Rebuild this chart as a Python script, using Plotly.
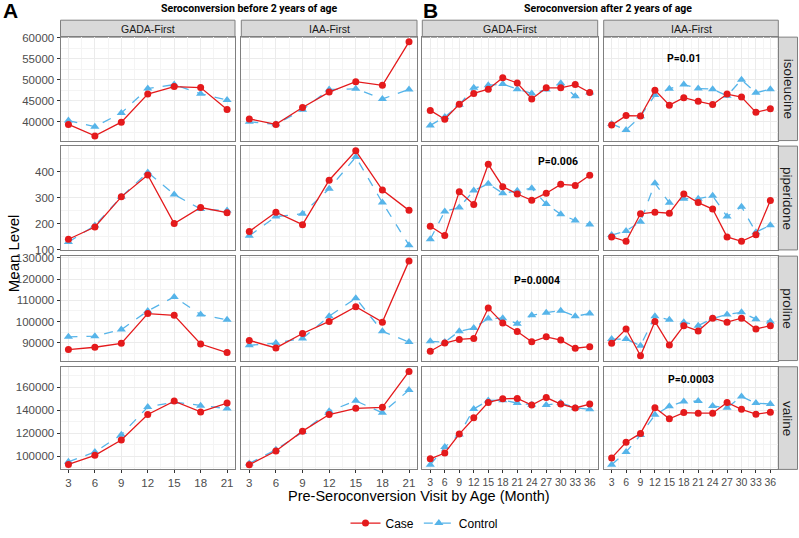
import plotly.graph_objects as go

W, H = 799, 538

months_A = [3, 6, 9, 12, 15, 18, 21]
months_B = [3, 6, 9, 12, 15, 18, 21, 24, 27, 30, 33, 36]
col_names = ["GADA-First", "IAA-First", "GADA-First", "IAA-First"]
row_names = ["isoleucine", "piperidone", "proline", "valine"]

# isoleucine
iso_A_gada_case = [39380, 36650, 39920, 46610, 48400, 48170, 42960]
iso_A_gada_ctrl = [40300, 38830, 42100, 47940, 48870, 46690, 45200]
iso_A_iaa_case = [40700, 39380, 43420, 47080, 49570, 48710, 59060]
iso_A_iaa_ctrl = [40000, 39400, 42880, 47700, 47860, 45450, 47700]
iso_B_gada_case = [42720, 40620, 44200, 46770, 47780, 50500, 49260, 45450, 48090, 48090, 48870, 47000]
iso_B_gada_ctrl = [39140, 41170, 44050, 48090, 48710, 49020, 47780, 46770, 47700, 49180, 46070, 47000]
iso_B_iaa_case = [39220, 41480, 41400, 47550, 43970, 45760, 44900, 44120, 46610, 45910, 42260, 43110]
iso_B_iaa_ctrl = [39500, 38050, 41300, 46380, 47860, 48870, 47940, 47780, 46220, 50030, 46920, 47780]

# piperidone
pip_A_gada_case = [140, 187, 303, 387, 200, 262, 242]
pip_A_gada_ctrl = [129, 193, 303, 397, 312, 256, 250]
pip_A_iaa_case = [170, 244, 196, 367, 480, 329, 251]
pip_A_iaa_ctrl = [153, 227, 238, 334, 456, 281, 117]
pip_B_gada_case = [190, 154, 323, 274, 428, 342, 314, 290, 317, 351, 347, 386]
pip_B_gada_ctrl = [140, 247, 262, 327, 353, 317, 326, 336, 275, 236, 212, 197]
pip_B_iaa_case = [149, 132, 238, 244, 240, 314, 281, 256, 149, 132, 157, 289]
pip_B_iaa_ctrl = [156, 172, 207, 355, 280, 296, 296, 307, 227, 265, 167, 194]

# proline
pro_A_gada_case = [86760, 87870, 89720, 103750, 102960, 89400, 85370]
pro_A_gada_ctrl = [92780, 93100, 96200, 105000, 111620, 103290, 100830]
pro_A_iaa_case = [91110, 87550, 94350, 100050, 106990, 99720, 128600]
pro_A_iaa_ctrl = [88800, 89860, 92040, 102500, 111000, 95410, 90320]
pro_B_gada_case = [86000, 89860, 91570, 92040, 106380, 99260, 95280, 90460, 92780, 91250, 87400, 88150]
pro_B_gada_ctrl = [90650, 90320, 95410, 96950, 101440, 101600, 98980, 102960, 104200, 105140, 102500, 103750]
pro_B_iaa_case = [89720, 96480, 83840, 100050, 88940, 98050, 95560, 101600, 99720, 101600, 96480, 98050]
pro_B_iaa_ctrl = [91710, 91710, 88610, 102500, 100830, 99720, 98050, 101440, 103290, 104350, 101110, 100050]

# valine
val_A_gada_case = [92890, 100850, 114230, 136420, 148080, 138690, 146370]
val_A_gada_ctrl = [95160, 103700, 118780, 142960, 147230, 144100, 141540]
val_A_iaa_case = [92600, 104550, 121900, 136420, 141820, 142680, 173970]
val_A_iaa_ctrl = [93740, 105690, 121050, 139260, 148360, 137840, 157750]
val_B_gada_case = [97720, 102850, 119350, 133570, 146940, 150070, 150360, 144670, 151210, 145520, 142110, 145520]
val_B_gada_ctrl = [92600, 107970, 119060, 141250, 148650, 148930, 146370, 144950, 144670, 146660, 142390, 140970]
val_B_iaa_case = [98580, 112230, 119920, 142390, 132720, 138120, 137550, 137550, 146940, 140970, 136700, 138410]
val_B_iaa_ctrl = [92600, 103700, 118490, 136130, 143530, 147800, 148080, 143810, 142390, 152060, 146370, 145520]

y_ticks = [
    [40000, 45000, 50000, 55000, 60000],
    [100, 200, 300, 400],
    [90000, 100000, 110000, 120000, 130000],
    [100000, 120000, 140000, 160000],
]
y_minor = [
    [37500, 42500, 47500, 52500, 57500],
    [150, 250, 350, 450],
    [85000, 95000, 105000, 115000, 125000],
    [90000, 110000, 130000, 150000, 170000],
]
x_minor_A = [4.5, 7.5, 10.5, 13.5, 16.5, 19.5]
x_minor_B = [1.5, 4.5, 7.5, 10.5, 13.5, 16.5, 19.5, 22.5, 25.5, 28.5, 31.5, 34.5, 37.5]

p_labels = [(0, 3, 18, 55000, "P=0.01"), (1, 2, 29.5, 438, "P=0.006"),
            (2, 2, 25, 119500, "P=0.0004"), (3, 3, 19.5, 166500, "P=0.0003")]

data = [
    [(iso_A_gada_case, iso_A_gada_ctrl), (iso_A_iaa_case, iso_A_iaa_ctrl),
     (iso_B_gada_case, iso_B_gada_ctrl), (iso_B_iaa_case, iso_B_iaa_ctrl)],
    [(pip_A_gada_case, pip_A_gada_ctrl), (pip_A_iaa_case, pip_A_iaa_ctrl),
     (pip_B_gada_case, pip_B_gada_ctrl), (pip_B_iaa_case, pip_B_iaa_ctrl)],
    [(pro_A_gada_case, pro_A_gada_ctrl), (pro_A_iaa_case, pro_A_iaa_ctrl),
     (pro_B_gada_case, pro_B_gada_ctrl), (pro_B_iaa_case, pro_B_iaa_ctrl)],
    [(val_A_gada_case, val_A_gada_ctrl), (val_A_iaa_case, val_A_iaa_ctrl),
     (val_B_gada_case, val_B_gada_ctrl), (val_B_iaa_case, val_B_iaa_ctrl)],
]

col_px = [(60.5, 235.0), (241.3, 417.0), (422.3, 597.7), (603.7, 778.3)]
row_px = [(37.7, 142.7), (148.3, 253.7), (260.0, 366.0), (372.3, 476.5)]

RED = "#E41A1C"
BLUE = "#56B4E9"
GRID = "#EBEBEB"
GRID_MINOR = "#F4F4F4"
BORDER = "#7F7F7F"
FONT = "Liberation Sans, Arial, sans-serif"
BOLD_FONT = "Roboto, Liberation Sans, sans-serif"

def px_x(p):
    return p / W

def px_y(p):
    return 1 - p / H

fig = go.Figure()
layout = {}
annotations = []
shapes = []

for r in range(4):
    vals = []
    for c in range(4):
        vals += data[r][c][0] + data[r][c][1]
    lo, hi = min(vals), max(vals)
    pad = (hi - lo) * 0.05
    yr = [lo - pad, hi + pad]
    for c in range(4):
        idx = r * 4 + c + 1
        sfx = "" if idx == 1 else str(idx)
        months = months_A if c < 2 else months_B
        case, ctrl = data[r][c]
        first = (idx == 1)
        fig.add_trace(go.Scatter(
            x=months, y=ctrl, mode="lines+markers", name="Control",
            line=dict(color=BLUE, width=1.3, dash="dash"),
            marker=dict(symbol="triangle-up", size=8, color=BLUE),
            showlegend=first, legendrank=2,
            xaxis="x" + sfx, yaxis="y" + sfx))
        fig.add_trace(go.Scatter(
            x=months, y=case, mode="lines+markers", name="Case",
            line=dict(color=RED, width=1.3),
            marker=dict(symbol="circle", size=7, color=RED),
            showlegend=first, legendrank=1,
            xaxis="x" + sfx, yaxis="y" + sfx))
        x0, x1 = col_px[c]
        y0, y1 = row_px[r]
        xr = [2.1, 21.9] if c < 2 else [1.35, 37.65]
        bottom = (r == 3)
        left = (c == 0)
        layout["xaxis" + sfx] = dict(
            domain=[px_x(x0), px_x(x1)], anchor="y" + sfx, range=xr,
            tickvals=months, ticktext=[str(m) for m in months],
            showticklabels=bottom, ticks="outside" if bottom else "",
            ticklen=3, tickcolor="#333333", tickwidth=1, tickangle=0,
            tickfont=dict(family=FONT, size=11.5 if c < 2 else 10.5, color="#4D4D4D"),
            showgrid=True, gridcolor=GRID, gridwidth=1,
            minor=dict(tickmode="array", tickvals=x_minor_A if c < 2 else x_minor_B,
                       showgrid=True, gridcolor=GRID_MINOR, gridwidth=0.7, ticks=""),
            showline=True, mirror=True, linecolor=BORDER, linewidth=1,
            zeroline=False, automargin=False, fixedrange=True)
        layout["yaxis" + sfx] = dict(
            domain=[px_y(y1), px_y(y0)], anchor="x" + sfx, range=yr,
            tickvals=y_ticks[r], ticktext=[str(v) for v in y_ticks[r]],
            showticklabels=left, ticks="outside" if left else "",
            ticklen=3, tickcolor="#333333", tickwidth=1,
            tickfont=dict(family=FONT, size=11.5, color="#4D4D4D"),
            showgrid=True, gridcolor=GRID, gridwidth=1,
            minor=dict(tickmode="array", tickvals=y_minor[r],
                       showgrid=True, gridcolor=GRID_MINOR, gridwidth=0.7, ticks=""),
            showline=True, mirror=True, linecolor=BORDER, linewidth=1,
            zeroline=False, automargin=False, fixedrange=True)

# top strips
for c in range(4):
    x0, x1 = col_px[c]
    shapes.append(dict(type="rect", xref="paper", yref="paper",
                       x0=px_x(x0), x1=px_x(x1), y0=px_y(37.7), y1=px_y(20.5),
                       fillcolor="#D9D9D9", line=dict(color=BORDER, width=1), layer="below"))
    annotations.append(dict(text=col_names[c], xref="paper", yref="paper",
                            x=px_x((x0 + x1) / 2), y=px_y(29.2), showarrow=False,
                            xanchor="center", yanchor="middle",
                            font=dict(family=FONT, size=10.5, color="#1A1A1A")))
# right strips
for r in range(4):
    y0, y1 = row_px[r]
    shapes.append(dict(type="rect", xref="paper", yref="paper",
                       x0=px_x(778.3), x1=px_x(797.5), y0=px_y(y1), y1=px_y(y0),
                       fillcolor="#D9D9D9", line=dict(color=BORDER, width=1), layer="below"))
    annotations.append(dict(text=row_names[r], xref="paper", yref="paper",
                            x=px_x(788), y=px_y((y0 + y1) / 2), showarrow=False,
                            textangle=90, xanchor="center", yanchor="middle",
                            font=dict(family=FONT, size=13.5, color="#1A1A1A")))

# p-values
for (r, c, xv, yv, txt) in p_labels:
    idx = r * 4 + c + 1
    sfx = "" if idx == 1 else str(idx)
    annotations.append(dict(text="<b>" + txt + "</b>", xref="x" + sfx, yref="y" + sfx,
                            x=xv, y=yv, showarrow=False,
                            font=dict(family=BOLD_FONT, size=10.5, color="#000000")))

# panel letters and titles
annotations += [
    dict(text="<b>A</b>", xref="paper", yref="paper", x=px_x(1), y=px_y(10.5),
         xanchor="left", yanchor="middle", showarrow=False,
         font=dict(family=FONT, size=21, color="#000000")),
    dict(text="<b>B</b>", xref="paper", yref="paper", x=px_x(421), y=px_y(10.5),
         xanchor="left", yanchor="middle", showarrow=False,
         font=dict(family=FONT, size=21, color="#000000")),
    dict(text="<b>Seroconversion before 2 years of age</b>", xref="paper", yref="paper",
         x=px_x(249.5), y=px_y(9), xanchor="center", yanchor="middle", showarrow=False,
         font=dict(family=BOLD_FONT, size=10.5, color="#000000")),
    dict(text="<b>Seroconversion after 2 years of age</b>", xref="paper", yref="paper",
         x=px_x(608), y=px_y(9), xanchor="center", yanchor="middle", showarrow=False,
         font=dict(family=BOLD_FONT, size=10.5, color="#000000")),
    dict(text="Mean Level", xref="paper", yref="paper", x=px_x(13), y=px_y(257),
         textangle=-90, xanchor="center", yanchor="middle", showarrow=False,
         font=dict(family=FONT, size=15, color="#000000")),
    dict(text="Pre-Seroconversion Visit by Age (Month)", xref="paper", yref="paper",
         x=px_x(419.4), y=px_y(503), xanchor="center", yanchor="middle", showarrow=False,
         font=dict(family=FONT, size=14.5, color="#000000")),
]

fig.update_layout(
    width=W, height=H,
    margin=dict(l=0, r=0, t=0, b=0),
    paper_bgcolor="white", plot_bgcolor="white",
    showlegend=True,
    legend=dict(orientation="h", x=px_x(424.5), y=px_y(531), xanchor="center",
                yanchor="middle", font=dict(family=FONT, size=12, color="#000000"),
                bgcolor="rgba(0,0,0,0)", itemwidth=30),
    annotations=annotations, shapes=shapes,
    **layout)

fig.write_html(
    "out.html",
    config={"displayModeBar": False},
    post_script="document.body.style.margin='0px';document.body.style.overflow='hidden';",
)
